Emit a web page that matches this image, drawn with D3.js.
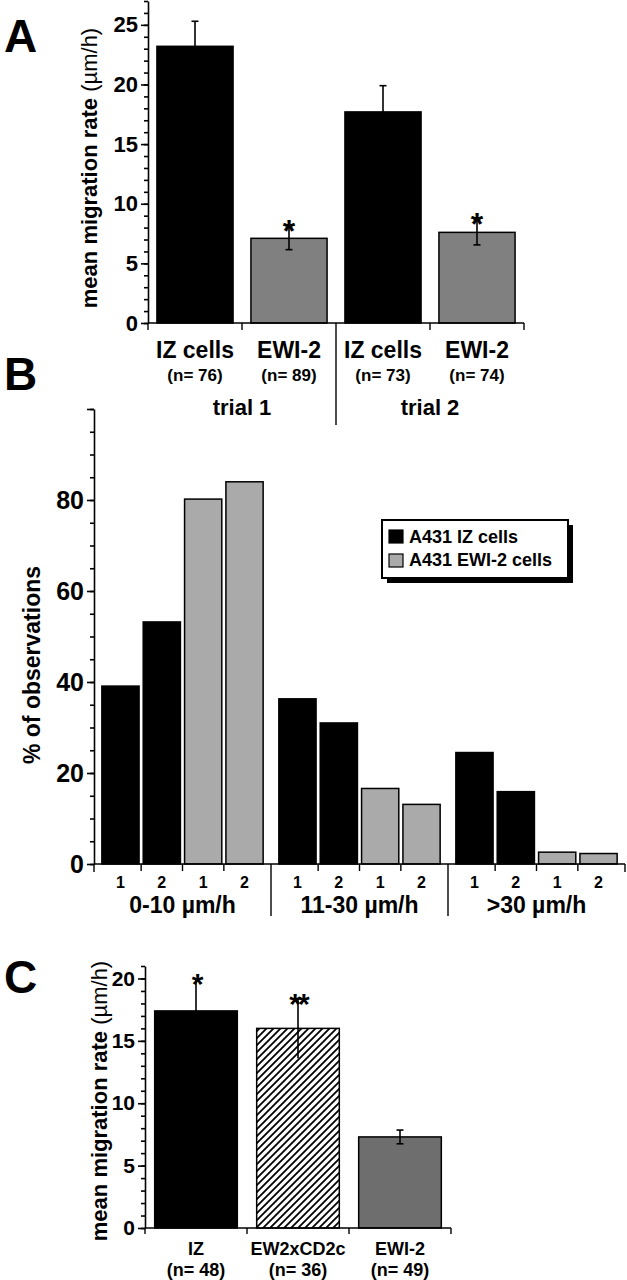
<!DOCTYPE html>
<html>
<head>
<meta charset="utf-8">
<script src="https://d3js.org/d3.v7.min.js"></script>
<style>
  body { margin: 0; background: #fff; }
  svg { display: block; font-family: "Liberation Sans", Arial, Helvetica, sans-serif; font-weight: bold; }
  .axis path, .axis line { stroke: #000; stroke-width: 1.6; }
</style>
</head>
<body>
<svg id="fig" width="627" height="1280"></svg>
<script>
// panel A
const aNames = ["IZ cells", "EWI-2", "IZ cells", "EWI-2"];
const aN = ["(n= 76)", "(n= 89)", "(n= 73)", "(n= 74)"];
const aMeans = [23.2, 7.1, 17.7, 7.6];
const aErr = [2.1, 0.95, 2.2, 1.05];
const aStars = ["", "*", "", "*"];
const aTrials = ["trial 1", "trial 2"];
const aTicks = [0, 5, 10, 15, 20, 25];

// panel B
const bGroups = ["0-10 µm/h", "11-30 µm/h", ">30 µm/h"];
const bTrials = ["1", "2", "1", "2"];
const bIZ = [[39.1, 53.2], [36.3, 31.0], [24.5, 15.9]];
const bEWI = [[80.2, 84.0], [16.6, 13.1], [2.6, 2.3]];
const bSeries = ["A431 IZ cells", "A431 EWI-2 cells"];
const bTicks = [0, 20, 40, 60, 80];

// panel C
const cNames = ["IZ", "EW2xCD2c", "EWI-2"];
const cN = ["(n= 48)", "(n= 36)", "(n= 49)"];
const cMeans = [17.4, 16.0, 7.3];
const cErr = [2.6, 2.4, 0.55];
const cStars = ["*", "**", ""];
const cTicks = [0, 5, 10, 15, 20];

const svg = d3.select("#fig");
svg.append("rect").attr("width", 627).attr("height", 1280).attr("fill", "#fff");

const defs = svg.append("defs");
defs.append("pattern")
  .attr("id", "hatch").attr("patternUnits", "userSpaceOnUse")
  .attr("width", 7).attr("height", 7)
  .call(p => {
    p.append("rect").attr("width", 7).attr("height", 7).attr("fill", "#fff");
    p.append("path").attr("d", "M-1,1 l2,-2 M0,7 l7,-7 M6,8 l2,-2")
      .attr("stroke", "#000").attr("stroke-width", 1.8);
  });

function panelLetter(t, x, y) {
  svg.append("text").attr("x", x).attr("y", y).attr("font-size", 46).text(t);
}

function yAxis(g, y, ticks, minorStep, fs) {
  const [lo, hi] = y.domain();
  g.append("g").attr("class", "axis")
    .call(d3.axisLeft(y).tickValues(d3.range(lo, hi + 0.001, minorStep)).tickSize(4).tickFormat(""))
    .call(a => a.select(".domain").remove());
  g.append("g").attr("class", "axis")
    .call(d3.axisLeft(y).tickValues(ticks).tickSize(7).tickSizeOuter(0).tickPadding(3))
    .call(a => a.selectAll("text").attr("font-size", fs).attr("font-weight", "bold")
      .attr("font-family", "'Liberation Sans', Arial, sans-serif").attr("fill", "#000"));
}

function yLabel(g, text, unit, x, yc, fs) {
  const t = g.append("text").attr("transform", `translate(${x},${yc}) rotate(-90)`)
    .attr("text-anchor", "middle").attr("font-size", fs);
  t.append("tspan").text(text);
  if (unit) t.append("tspan").attr("font-weight", "normal").text(unit);
}

function errBar(g, cx, y0, y1, cap) {
  g.append("line").attr("x1", cx).attr("x2", cx).attr("y1", y0).attr("y2", y1)
    .attr("stroke", "#000").attr("stroke-width", 1.6);
  if (cap) {
    [y0, y1].forEach(v => g.append("line").attr("x1", cx - 3.5).attr("x2", cx + 3.5)
      .attr("y1", v).attr("y2", v).attr("stroke", "#000").attr("stroke-width", 1.6));
  }
}

// ---------- A ----------
{
  const g = svg.append("g");
  const x = d3.scaleBand().domain(d3.range(aNames.length)).range([148, 524])
    .paddingInner(0.19).paddingOuter(0.095);
  const y = d3.scaleLinear().domain([0, 27]).range([323, 1]);
  const colors = ["#000", "#808080", "#000", "#808080"];
  const step = (x.range()[1] - x.range()[0]) / aNames.length;

  aMeans.forEach((v, i) => {
    g.append("rect").attr("x", x(i)).attr("y", y(v)).attr("width", x.bandwidth())
      .attr("height", y(0) - y(v)).attr("fill", colors[i]).attr("stroke", "#000").attr("stroke-width", 1.5);
    const cx = x(i) + x.bandwidth() / 2;
    errBar(g, cx, y(v + aErr[i]), y(v - aErr[i]), true);
    if (aStars[i]) g.append("text").attr("x", cx).attr("y", y(v + aErr[i]) + 15)
      .attr("text-anchor", "middle").attr("font-size", 32).text(aStars[i]);
    g.append("text").attr("x", cx).attr("y", y(0) + 35).attr("text-anchor", "middle")
      .attr("font-size", 23).text(aNames[i]);
    g.append("text").attr("x", cx).attr("y", y(0) + 58).attr("text-anchor", "middle")
      .attr("font-size", 17).text(aN[i]);
  });
  // baseline and ticks
  g.append("line").attr("x1", x.range()[0]).attr("x2", x.range()[1]).attr("y1", y(0)).attr("y2", y(0))
    .attr("stroke", "#000").attr("stroke-width", 1.6);
  d3.range(aNames.length + 1).forEach(i => {
    const bx = x.range()[0] + i * step;
    g.append("line").attr("x1", bx).attr("x2", bx).attr("y1", y(0))
      .attr("y2", i === 2 ? y(0) + 102 : y(0) + 7).attr("stroke", "#000").attr("stroke-width", 1.4);
  });
  aTrials.forEach((t, k) => {
    g.append("text").attr("x", x.range()[0] + (2 * k + 1) * step).attr("y", y(0) + 92)
      .attr("text-anchor", "middle").attr("font-size", 22).text(t);
  });
  yAxis(g.append("g").attr("transform", `translate(${x.range()[0]},0)`), y, aTicks, 1, 22);
  yLabel(g, "mean migration rate ", "(µm/h)", 97, 168, 22);
  panelLetter("A", 4, 52);
}

// ---------- B ----------
{
  const g = svg.append("g");
  const x0 = d3.scaleBand().domain(d3.range(bGroups.length)).range([94, 625]);
  const x1 = d3.scaleBand().domain(d3.range(bTrials.length)).range([0, x0.bandwidth()])
    .paddingInner(0.1).paddingOuter(0.19);
  const y = d3.scaleLinear().domain([0, 100]).range([864, 409]);
  const colors = ["#000", "#000", "#aaaaaa", "#aaaaaa"];

  bGroups.forEach((grp, gi) => {
    const vals = bIZ[gi].concat(bEWI[gi]);
    vals.forEach((v, i) => {
      const bx = x0(gi) + x1(i);
      g.append("rect").attr("x", bx).attr("y", y(v)).attr("width", x1.bandwidth())
        .attr("height", y(0) - y(v)).attr("fill", colors[i]).attr("stroke", "#000").attr("stroke-width", 1.5);
      g.append("text").attr("x", bx + x1.bandwidth() / 2).attr("y", y(0) + 24)
        .attr("text-anchor", "middle").attr("font-size", 16).text(bTrials[i]);
      if (i > 0) {
        const tx = x0(gi) + x1(i) - x1.step() * x1.paddingInner() / 2;
        g.append("line").attr("x1", tx).attr("x2", tx).attr("y1", y(0)).attr("y2", y(0) + 7)
          .attr("stroke", "#000").attr("stroke-width", 1.4);
      }
    });
    g.append("text").attr("x", x0(gi) + x0.bandwidth() / 2).attr("y", y(0) + 49)
      .attr("text-anchor", "middle").attr("font-size", 23).text(grp);
  });
  g.append("line").attr("x1", x0.range()[0]).attr("x2", x0.range()[1]).attr("y1", y(0)).attr("y2", y(0))
    .attr("stroke", "#000").attr("stroke-width", 1.6);
  d3.range(bGroups.length + 1).forEach(i => {
    const bx = x0.range()[0] + i * x0.step();
    const inner = i > 0 && i < bGroups.length;
    g.append("line").attr("x1", bx).attr("x2", bx).attr("y1", y(0)).attr("y2", inner ? y(0) + 52 : y(0) + 8)
      .attr("stroke", "#000").attr("stroke-width", 1.4);
  });
  yAxis(g.append("g").attr("transform", `translate(${x0.range()[0]},0)`), y, bTicks.concat([100]), 5, 25);
  g.selectAll(".axis text").filter(d => d === 100).remove();
  yLabel(g, "% of observations", "", 40, 665, 23);

  // legend
  const lg = g.append("g").attr("transform", "translate(382,520)");
  lg.append("rect").attr("x", 5).attr("y", 5).attr("width", 186).attr("height", 58).attr("fill", "#000");
  lg.append("rect").attr("width", 186).attr("height", 58).attr("fill", "#fff").attr("stroke", "#000").attr("stroke-width", 2);
  bSeries.forEach((s, i) => {
    lg.append("rect").attr("x", 7).attr("y", 10 + i * 24).attr("width", 14).attr("height", 13)
      .attr("fill", i === 0 ? "#000" : "#aaaaaa").attr("stroke", "#000").attr("stroke-width", 1.2);
    lg.append("text").attr("x", 27).attr("y", 23 + i * 23).attr("font-size", 18).text(s);
  });
  panelLetter("B", 4, 390);
}

// ---------- C ----------
{
  const g = svg.append("g");
  const x = d3.scaleBand().domain(d3.range(cNames.length)).range([145, 451])
    .paddingInner(0.19).paddingOuter(0.095);
  const y = d3.scaleLinear().domain([0, 21]).range([1228, 966]);
  const fills = ["#000", "url(#hatch)", "#6e6e6e"];
  const step = (x.range()[1] - x.range()[0]) / cNames.length;

  cMeans.forEach((v, i) => {
    g.append("rect").attr("x", x(i)).attr("y", y(v)).attr("width", x.bandwidth())
      .attr("height", y(0) - y(v)).attr("fill", fills[i]).attr("stroke", "#000").attr("stroke-width", 1.5);
    const cx = x(i) + x.bandwidth() / 2;
    errBar(g, cx, y(v + cErr[i]), y(v - cErr[i]), !cStars[i]);
    if (cStars[i]) g.append("text").attr("x", cx).attr("y", y(v + cErr[i]) + 16)
      .attr("text-anchor", "middle").attr("font-size", 30).attr("letter-spacing", -3).text(cStars[i]);
    g.append("text").attr("x", cx).attr("y", y(0) + 27).attr("text-anchor", "middle")
      .attr("font-size", 18).text(cNames[i]);
    g.append("text").attr("x", cx).attr("y", y(0) + 48).attr("text-anchor", "middle")
      .attr("font-size", 18).text(cN[i]);
  });
  g.append("line").attr("x1", x.range()[0]).attr("x2", x.range()[1]).attr("y1", y(0)).attr("y2", y(0))
    .attr("stroke", "#000").attr("stroke-width", 1.6);
  d3.range(cNames.length + 1).forEach(i => {
    const bx = x.range()[0] + i * step;
    g.append("line").attr("x1", bx).attr("x2", bx).attr("y1", y(0)).attr("y2", y(0) + 6)
      .attr("stroke", "#000").attr("stroke-width", 1.4);
  });
  yAxis(g.append("g").attr("transform", `translate(${x.range()[0]},0)`), y, cTicks, 1, 21);
  yLabel(g, "mean migration rate ", "(µm/h)", 107, 1101, 22);
  panelLetter("C", 4, 993);
}
</script>
</body>
</html>
